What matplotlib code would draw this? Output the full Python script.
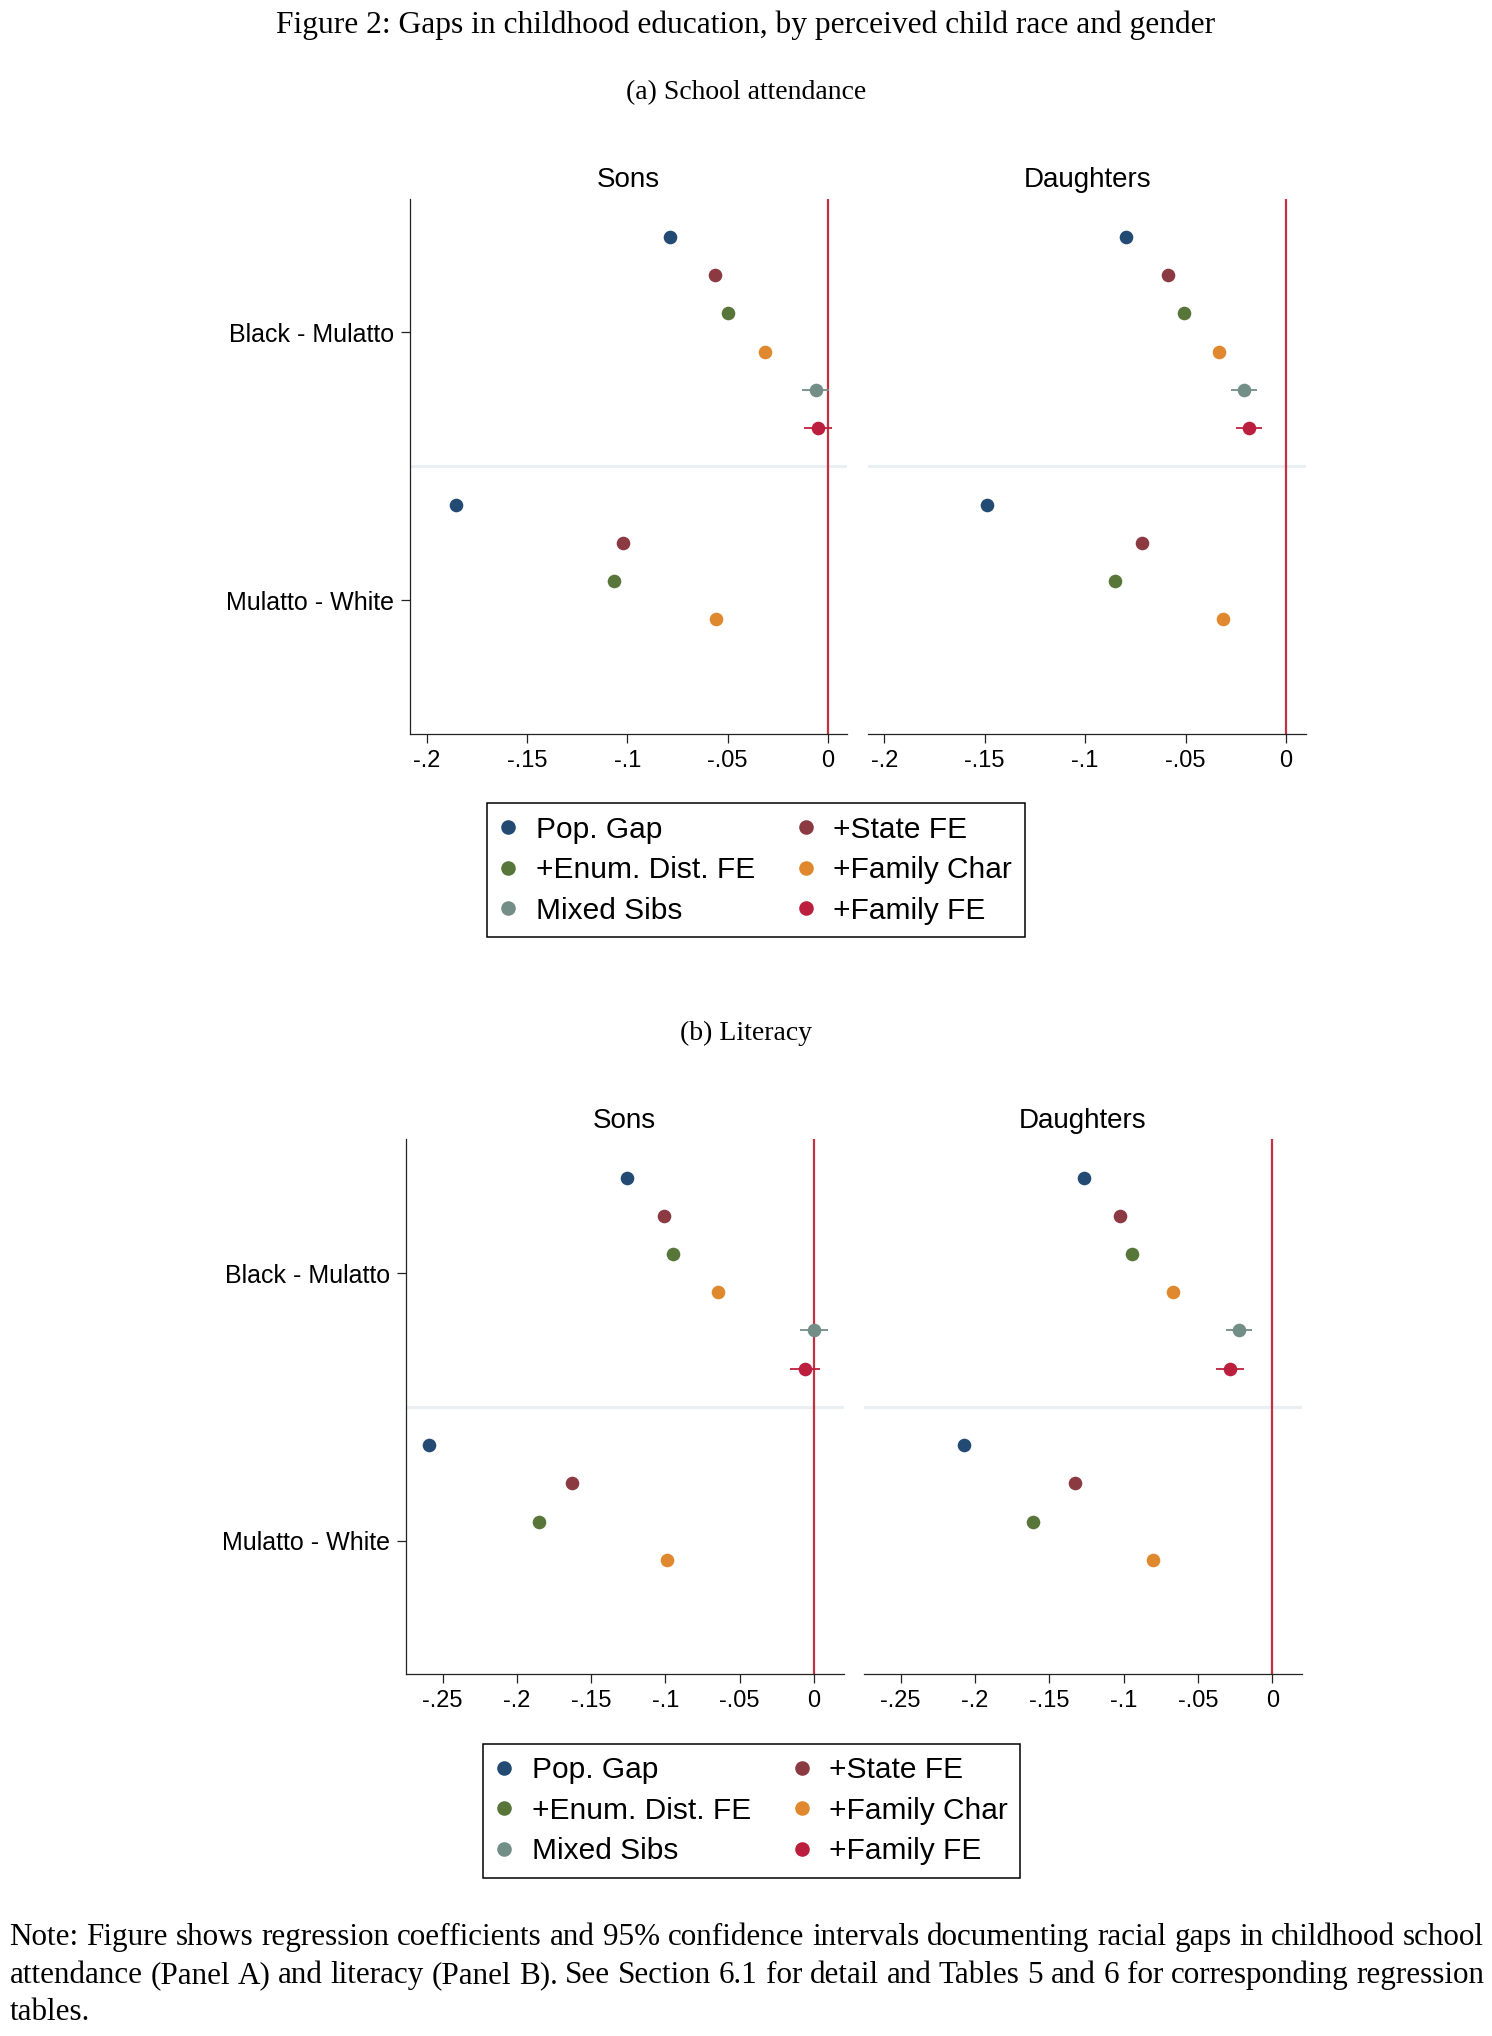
import numpy as np
import matplotlib.pyplot as plt
from matplotlib.lines import Line2D

W, H = 1492, 2036
nan = np.nan

# ---- data ----
series = ["Pop. Gap", "+State FE", "+Enum. Dist. FE", "+Family Char", "Mixed Sibs", "+Family FE"]
colors = ["#234a73", "#8b3a42", "#58763a", "#e0882d", "#738e86", "#bc1f3d"]
groups = ["Black - Mulatto", "Mulatto - White"]

# (a) school attendance: point estimates and CI half widths
att_sons_bm = [-0.0785, -0.0565, -0.0496, -0.0311, -0.0060, -0.0050]
att_sons_bm_ci = [0.002, 0.002, 0.002, 0.002, 0.0067, 0.0070]
att_sons_mw = [-0.1856, -0.1020, -0.1067, -0.0556, nan, nan]
att_sons_mw_ci = [0.002, 0.002, 0.002, 0.002, nan, nan]

att_dau_bm = [-0.0794, -0.0587, -0.0508, -0.0332, -0.0209, -0.0183]
att_dau_bm_ci = [0.002, 0.002, 0.002, 0.002, 0.0066, 0.0066]
att_dau_mw = [-0.1489, -0.0717, -0.0849, -0.0312, nan, nan]
att_dau_mw_ci = [0.002, 0.002, 0.002, 0.002, nan, nan]

# (b) literacy
lit_sons_bm = [-0.1256, -0.1010, -0.0946, -0.0645, 0.0000, -0.0059]
lit_sons_bm_ci = [0.002, 0.002, 0.002, 0.002, 0.0093, 0.0103]
lit_sons_mw = [-0.2592, -0.1627, -0.1853, -0.0988, nan, nan]
lit_sons_mw_ci = [0.002, 0.002, 0.002, 0.002, nan, nan]

lit_dau_bm = [-0.1267, -0.1027, -0.0944, -0.0670, -0.0224, -0.0283]
lit_dau_bm_ci = [0.002, 0.002, 0.002, 0.002, 0.0088, 0.0095]
lit_dau_mw = [-0.2076, -0.1325, -0.1610, -0.0805, nan, nan]
lit_dau_mw_ci = [0.002, 0.002, 0.002, 0.002, nan, nan]

att_ticks = [-0.2, -0.15, -0.1, -0.05, 0]
att_labels = ["-.2", "-.15", "-.1", "-.05", "0"]
lit_ticks = [-0.25, -0.2, -0.15, -0.1, -0.05, 0]
lit_labels = ["-.25", "-.2", "-.15", "-.1", "-.05", "0"]

title = "Figure 2: Gaps in childhood education, by perceived child race and gender"
sub_a = "(a) School attendance"
sub_b = "(b) Literacy"
note = ["Note: Figure shows regression coefficients and 95% confidence intervals documenting racial gaps in childhood school",
        "attendance (Panel A) and literacy (Panel B). See Section 6.1 for detail and Tables 5 and 6 for corresponding regression",
        "tables."]

SANS = "Liberation Sans"
SERIF = "Liberation Serif"

fig = plt.figure(figsize=(W / 100, H / 100), dpi=100)


def rect(l, t, r, b):
    return [l / W, 1 - b / H, (r - l) / W, (b - t) / H]


def panel(box, bm, bm_ci, mw, mw_ci, xlim, ticks, labels, name, first):
    ax = fig.add_axes(rect(*box))
    ax.axhline(7, color="#e9eff2", lw=2.2, zorder=1)
    ax.axvline(0, color="#c3303f", lw=1.6, zorder=2)
    for i in range(len(series)):
        ax.errorbar([bm[i], mw[i]], [i + 1, i + 8], xerr=[bm_ci[i], mw_ci[i]],
                    fmt="o", color=colors[i], ms=9.8, mew=0, elinewidth=1.3,
                    capsize=0, zorder=3)
    ax.set_xlim(*xlim)
    ax.set_ylim(14, 0)
    ax.set_xticks(ticks)
    ax.set_xticklabels(labels, fontsize=17, family=SANS)
    ax.tick_params(axis="x", length=6.5, width=0.9, pad=5, color="#222222")
    for s in ["top", "right"]:
        ax.spines[s].set_visible(False)
    ax.spines["bottom"].set_linewidth(0.9)
    ax.spines["bottom"].set_color("#222222")
    if first:
        ax.set_yticks([3.5, 10.5])
        ax.set_yticklabels(groups, fontsize=18, family=SANS)
        ax.tick_params(axis="y", length=6.5, width=0.9, pad=5, color="#222222")
        ax.spines["left"].set_linewidth(0.9)
        ax.spines["left"].set_color("#222222")
    else:
        ax.set_yticks([])
        ax.spines["left"].set_visible(False)
    ax.text(0.5, 1 + 11.5 / (box[3] - box[1]), name, transform=ax.transAxes,
            ha="center", va="baseline", fontsize=20, family=SANS)
    return ax


panel((410.3, 198.6, 847.3, 734), att_sons_bm, att_sons_bm_ci, att_sons_mw, att_sons_mw_ci,
      (-0.2082, 0.0097), att_ticks, att_labels, "Sons", True)
panel((868.4, 198.6, 1306.2, 734), att_dau_bm, att_dau_bm_ci, att_dau_mw, att_dau_mw_ci,
      (-0.2079, 0.0101), att_ticks, att_labels, "Daughters", False)
panel((406, 1139.4, 843.5, 1674.4), lit_sons_bm, lit_sons_bm_ci, lit_sons_mw, lit_sons_mw_ci,
      (-0.2746, 0.0199), lit_ticks, lit_labels, "Sons", True)
panel((864, 1139.4, 1301.7, 1674.4), lit_dau_bm, lit_dau_bm_ci, lit_dau_mw, lit_dau_mw_ci,
      (-0.2747, 0.0198), lit_ticks, lit_labels, "Daughters", False)

# legends (row-major order like Stata)
handles = [Line2D([], [], marker="o", ls="none", color=c, ms=10.5, mew=0) for c in colors]
order = [0, 2, 4, 1, 3, 5]
for cx, cy in [(755.7, 870.2), (751.6, 1810.9)]:
    leg = fig.legend([handles[i] for i in order], [series[i] for i in order], ncol=2,
                     loc="center", bbox_to_anchor=(cx / W, 1 - cy / H),
                     bbox_transform=fig.transFigure, prop={"family": SANS, "size": 21.5},
                     fancybox=False, framealpha=1, edgecolor="black",
                     handlelength=0.6, handletextpad=0.62, columnspacing=1.4,
                     borderpad=0.42, labelspacing=0.42)
    leg.get_frame().set_linewidth(1.1)

fig.text(746 / W, 1 - 33 / H, title, ha="center", va="baseline", fontsize=22.7, family=SERIF)
fig.text(746 / W, 1 - 99.3 / H, sub_a, ha="center", va="baseline", fontsize=20, family=SERIF)
fig.text(746 / W, 1 - 1040 / H, sub_b, ha="center", va="baseline", fontsize=20, family=SERIF)

# justified note text, size fitted so the first line fills the text width
renderer = fig.canvas.get_renderer()
left, right = 9.5, 1484
probe = fig.text(0, 0, note[0], fontsize=20, family=SERIF)
note_fs = 20 * (right - left) / probe.get_window_extent(renderer).width
probe.remove()
for k, (line, base) in enumerate(zip(note, [1945, 1983.3, 2020])):
    words = line.split()
    texts = [fig.text(0, 1 - base / H, w, ha="left", va="baseline", fontsize=note_fs, family=SERIF)
             for w in words]
    widths = [t.get_window_extent(renderer).width for t in texts]
    if k < len(note) - 1 and len(words) > 1:
        gap = (right - left - sum(widths)) / (len(words) - 1)
    else:
        gap = 0.25 * note_fs * 100 / 72
    x = left
    for t, w in zip(texts, widths):
        t.set_x(x / W)
        x += w + gap

fig.savefig("out.png", dpi=100)
